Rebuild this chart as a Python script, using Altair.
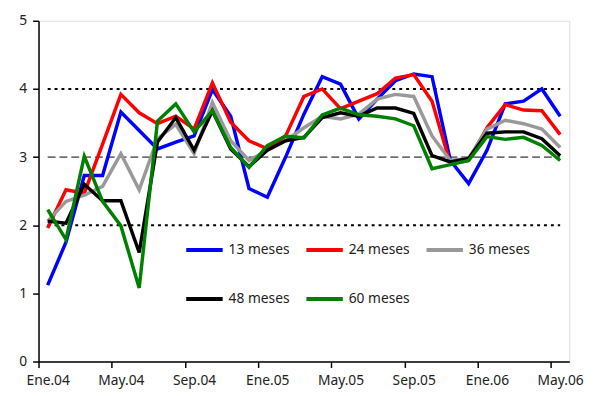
import altair as alt
import pandas as pd

mes = ["Ene", "Feb", "Mar", "Abr", "May", "Jun", "Jul", "Ago", "Sep", "Oct", "Nov", "Dic"]
months = [f"{mes[m]}.{y:02d}" for y in (4, 5, 6) for m in range(12)][:29]

series_names = ["13 meses", "24 meses", "36 meses", "48 meses", "60 meses"]
series_colors = ["#0000FF", "#FF0000", "#999999", "#000000", "#008000"]

s13 = [1.12, 1.75, 2.73, 2.73, 3.66, 3.39, 3.12, 3.22, 3.31, 3.99, 3.60, 2.54, 2.41, 3.00, 3.63,
       4.18, 4.07, 3.56, 3.85, 4.12, 4.22, 4.18, 2.95, 2.61, 3.10, 3.78, 3.82, 4.00, 3.60]
s24 = [1.96, 2.52, 2.47, 3.19, 3.92, 3.65, 3.49, 3.60, 3.41, 4.09, 3.51, 3.24, 3.12, 3.31, 3.89,
       4.00, 3.71, 3.82, 3.93, 4.16, 4.21, 3.82, 2.90, 2.95, 3.43, 3.77, 3.69, 3.68, 3.33]
s36 = [2.06, 2.35, 2.44, 2.57, 3.05, 2.52, 3.27, 3.48, 3.05, 3.80, 3.24, 2.95, 3.10, 3.24, 3.43,
       3.60, 3.56, 3.63, 3.85, 3.92, 3.89, 3.31, 2.95, 2.98, 3.41, 3.54, 3.49, 3.41, 3.14]
s48 = [2.06, 2.03, 2.60, 2.36, 2.36, 1.60, 3.22, 3.58, 3.10, 3.68, 3.12, 2.86, 3.10, 3.24, 3.29,
       3.58, 3.65, 3.60, 3.72, 3.72, 3.64, 3.02, 2.93, 2.98, 3.35, 3.37, 3.37, 3.27, 3.02]
s60 = [2.23, 1.79, 3.01, 2.35, 1.99, 1.08, 3.53, 3.78, 3.37, 3.68, 3.14, 2.85, 3.17, 3.31, 3.28,
       3.62, 3.72, 3.62, 3.60, 3.56, 3.46, 2.83, 2.89, 2.95, 3.30, 3.26, 3.29, 3.17, 2.95]

ref_levels = [4, 3, 2]
ref_styles = ["dot", "dash", "dot"]

rows = []
for name, vals in zip(series_names, [s13, s24, s36, s48, s60]):
    for i, v in enumerate(vals):
        rows.append({"idx": i, "mes": months[i], "serie": name, "valor": v})
df = pd.DataFrame(rows)

refs = pd.DataFrame({"y": ref_levels, "estilo": ref_styles,
                     "x0": [0] * 3, "x1": [len(months) - 1] * 3})

tick_vals = [i - 0.5 for i in range(0, len(months), 4)]
label_map = "{" + ",".join(f"'{v}':'{months[int(v + 0.5)]}'" for v in tick_vals) + "}"

FONT = "Noto Sans"

x_scale = alt.Scale(domain=[-0.5, len(months) - 0.5], nice=False, zero=False)
y_scale = alt.Scale(domain=[0, 5], nice=False)

x_axis = alt.Axis(values=tick_vals, labelExpr=f"{label_map}[toString(datum.value)]",
                  labelOffset=9.3, grid=False, title=None, tickSize=6, tickColor="#000000",
                  domainColor="#000000", domainWidth=1.5, tickWidth=1.5,
                  labelFont=FONT, labelFontSize=14, labelColor="#222222", labelPadding=6,
                  labelFlush=False, labelOverlap=False)
y_axis = alt.Axis(values=[0, 1, 2, 3, 4, 5], format="d", grid=False, title=None, tickSize=6,
                  tickColor="#000000", domainColor="#000000", domainWidth=1.5, tickWidth=1.5,
                  labelFont=FONT, labelFontSize=14, labelColor="#222222", labelPadding=6)

dotted = alt.Chart(refs[refs.estilo == "dot"]).mark_rule(
    color="#000000", strokeWidth=2, strokeDash=[3, 4]
).encode(
    x=alt.X("x0:Q", scale=x_scale, axis=x_axis),
    x2="x1:Q",
    y=alt.Y("y:Q", scale=y_scale, axis=y_axis),
)
dashed = alt.Chart(refs[refs.estilo == "dash"]).mark_rule(
    color="#000000", strokeWidth=1, strokeDash=[8, 4]
).encode(
    x=alt.X("x0:Q", scale=x_scale),
    x2="x1:Q",
    y=alt.Y("y:Q", scale=y_scale),
)

lines = alt.Chart(df).mark_line(strokeWidth=3.5, strokeJoin="miter").encode(
    x=alt.X("idx:Q", scale=x_scale),
    y=alt.Y("valor:Q", scale=y_scale),
    color=alt.Color("serie:N",
                    scale=alt.Scale(domain=series_names, range=series_colors),
                    legend=alt.Legend(orient="none", legendX=148, legendY=212, columns=3,
                                      direction="horizontal",
                                      title=None, symbolType="stroke", symbolSize=1369,
                                      symbolStrokeWidth=4, labelFont=FONT, labelFontSize=14,
                                      labelColor="#222222", labelOffset=4,
                                      columnPadding=9, rowPadding=21)),
)

chart = alt.layer(dotted, dashed, lines).properties(
    width=539, height=346,
    autosize=alt.AutoSizeParams(type="none"),
    padding={"left": 31, "top": 10, "right": 20, "bottom": 30},
).configure_view(stroke=None).configure(background="white")

chart.save("out.html", embed_options={"renderer": "svg", "actions": False})
